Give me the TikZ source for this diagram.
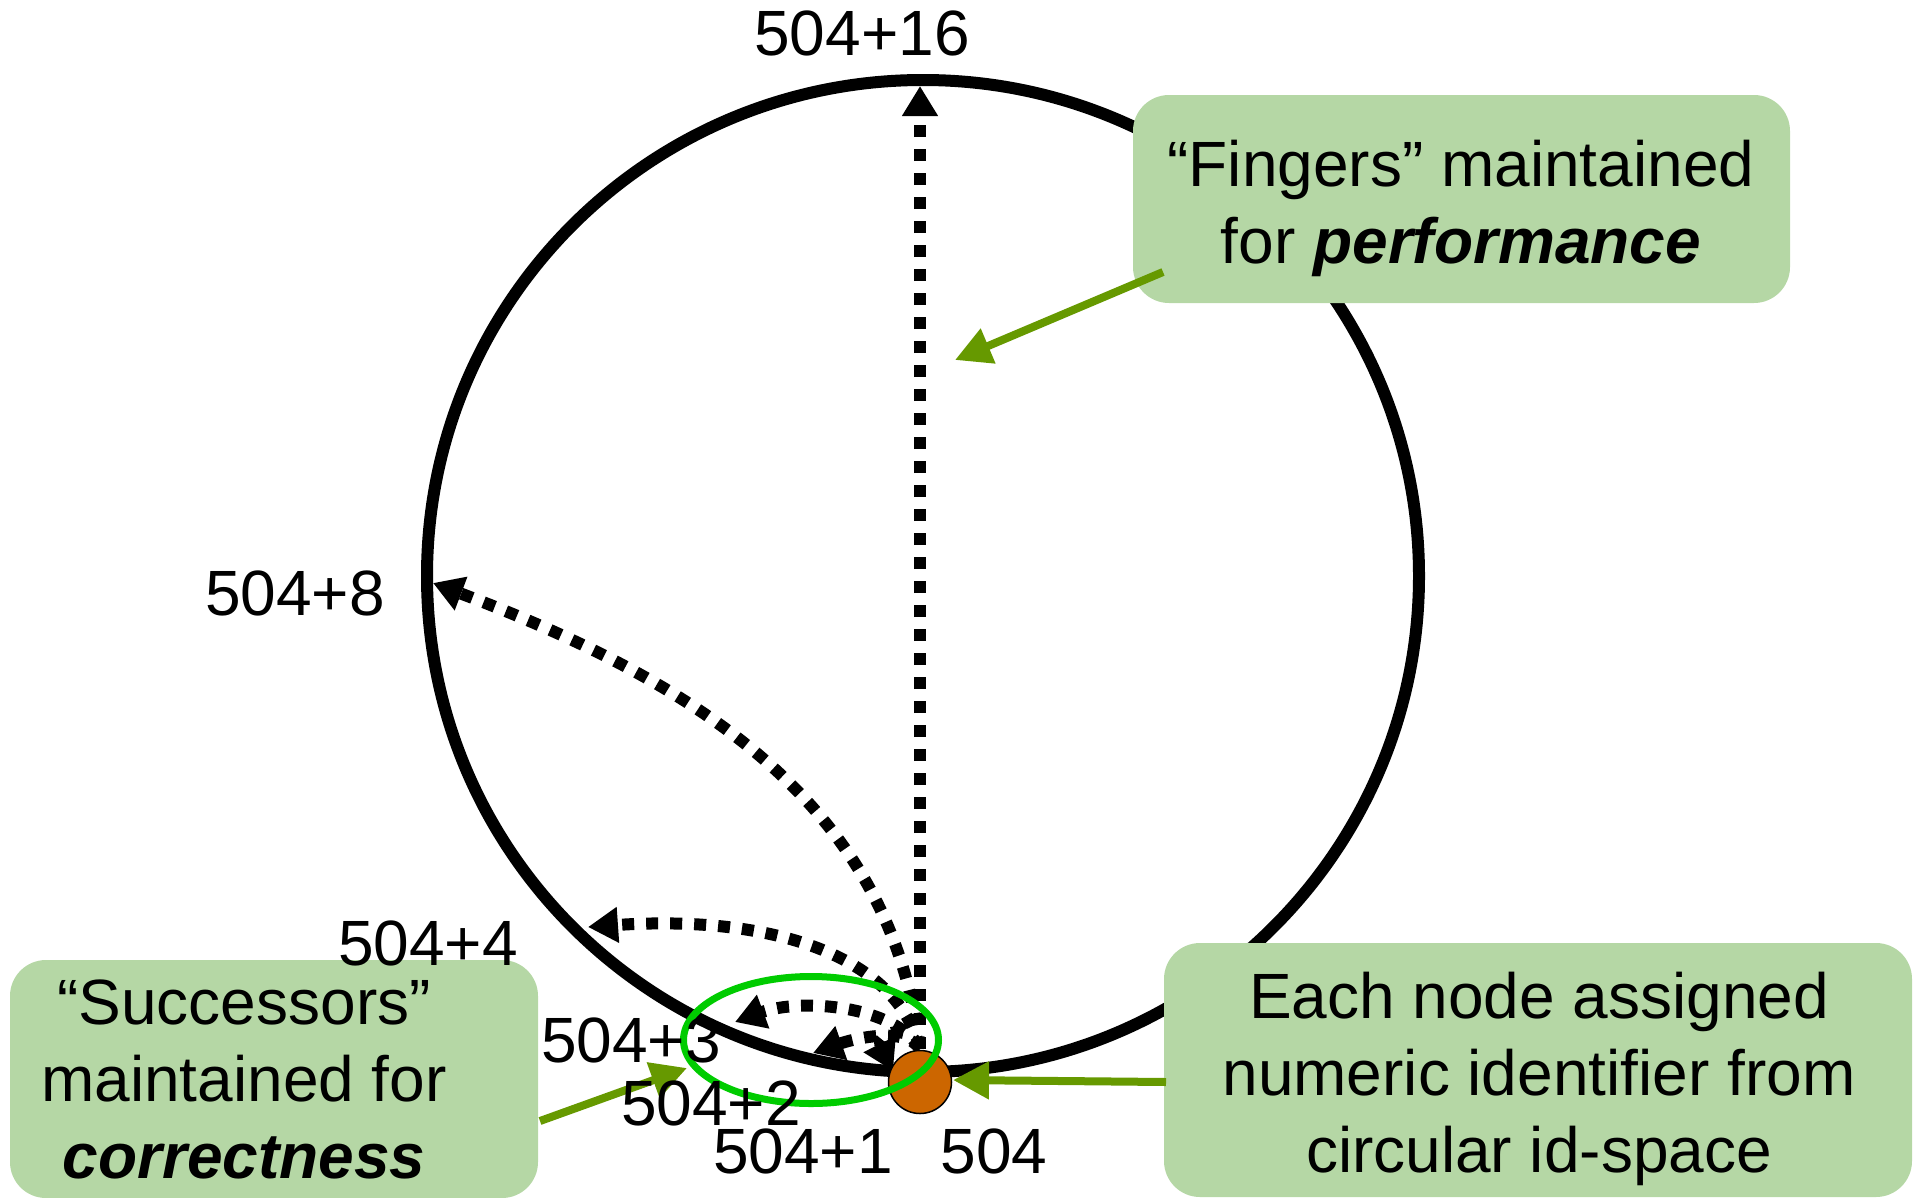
\documentclass[tikz,border=0pt]{standalone}
\usepackage{fontspec}
\setmainfont{Liberation Sans}
\usetikzlibrary{arrows.meta,shapes.geometric}
\definecolor{notegreen}{RGB}{181,215,165}
\definecolor{pointgreen}{RGB}{102,153,0}
\definecolor{ringgreen}{RGB}{0,204,0}
\definecolor{nodeorange}{RGB}{204,102,0}

\begin{document}
\begin{tikzpicture}[x=1pt,y=1pt,yscale=-1,
	finger/.style={line width=12pt,dash pattern=on 12pt off 12pt,-{Triangle[length=30pt,width=34pt]}},
	pointer/.style={pointgreen,line width=8pt,-{Triangle[length=36pt,width=36pt]}},
	notebox/.style={fill=notegreen,rounded corners=36pt,inner sep=0pt},
	notetext/.style={align=center,inner sep=0pt,font=\fontsize{64}{77}\selectfont},
	idlabel/.style={anchor=base,inner sep=0pt,font=\fontsize{64}{77}\selectfont}]
	\useasboundingbox (0,0) rectangle (1914,1197);
	\node [draw,circle,line width=12pt,minimum size=992pt,inner sep=0pt] (ring) at (923,576) {};
	\coordinate (src) at (920,1049);
	\coordinate (p16) at (920,86);
	\coordinate (p8) at (433,583);
	\coordinate (p4) at (588,927);
	\coordinate (p3) at (735,1022);
	\coordinate (p2) at (813,1053);
	\coordinate (p1) at (893,1071);
	\draw [finger] (src) -- (p16);
	\draw [finger] (src) .. controls (890,800) and (690,680) .. (p8);
	\draw [finger] (src) .. controls (895,950) and (760,915) .. (p4);
	\draw [finger] (src) .. controls (895,1005) and (800,998) .. (p3);
	\draw [finger] (src) .. controls (905,1025) and (850,1040) .. (p2);
	\draw [finger] (src) .. controls (908,1020) and (875,1035) .. (p1);
	\node [draw,circle,fill=nodeorange,line width=1.5pt,minimum size=63pt,inner sep=0pt] (n504) at (920,1082) {};
	\node [draw=ringgreen,ellipse,line width=7pt,minimum width=255pt,minimum height=127pt,inner sep=0pt] (succring) at (811,1040) {};
	\node [notebox,minimum width=657pt,minimum height=208pt] (fingbox) at (1461.5,199) {};
	\node [notebox,minimum width=528pt,minimum height=238pt] (succbox) at (274,1079) {};
	\node [notebox,minimum width=748pt,minimum height=254pt] (idbox) at (1538,1070) {};
	\coordinate (fingfoot) at (1163,272);
	\coordinate (fingtip) at (955,360);
	\coordinate (succfoot) at (540,1121);
	\coordinate (succtip) at (687,1068);
	\coordinate (idfoot) at (1166,1082);
	\coordinate (idtip) at (953,1080);
	\draw [pointer] (fingfoot) -- (fingtip);
	\draw [pointer] (succfoot) -- (succtip);
	\draw [pointer] (idfoot) -- (idtip);
	\node [notetext] (fingtext) at (1461,208) {“Fingers” maintained\\for \textbf{\textit{performance}}};
	\node [notetext] (succtext) at (244,1079) {“Successors”\\maintained for\\\textbf{\textit{correctness}}};
	\node [notetext] (idtext) at (1539,1079) {Each node assigned\\numeric identifier from\\circular id-space};
	\node [idlabel] (l16) at (862,55) {504+16};
	\node [idlabel] (l8) at (295,615) {504+8};
	\node [idlabel] (l4) at (428,965) {504+4};
	\node [idlabel] (l3) at (631,1062) {504+3};
	\node [idlabel] (l2) at (711,1125) {504+2};
	\node [idlabel] (l1) at (803,1173) {504+1};
	\node [idlabel] (l504) at (994,1173) {504};
\end{tikzpicture}
\end{document}
